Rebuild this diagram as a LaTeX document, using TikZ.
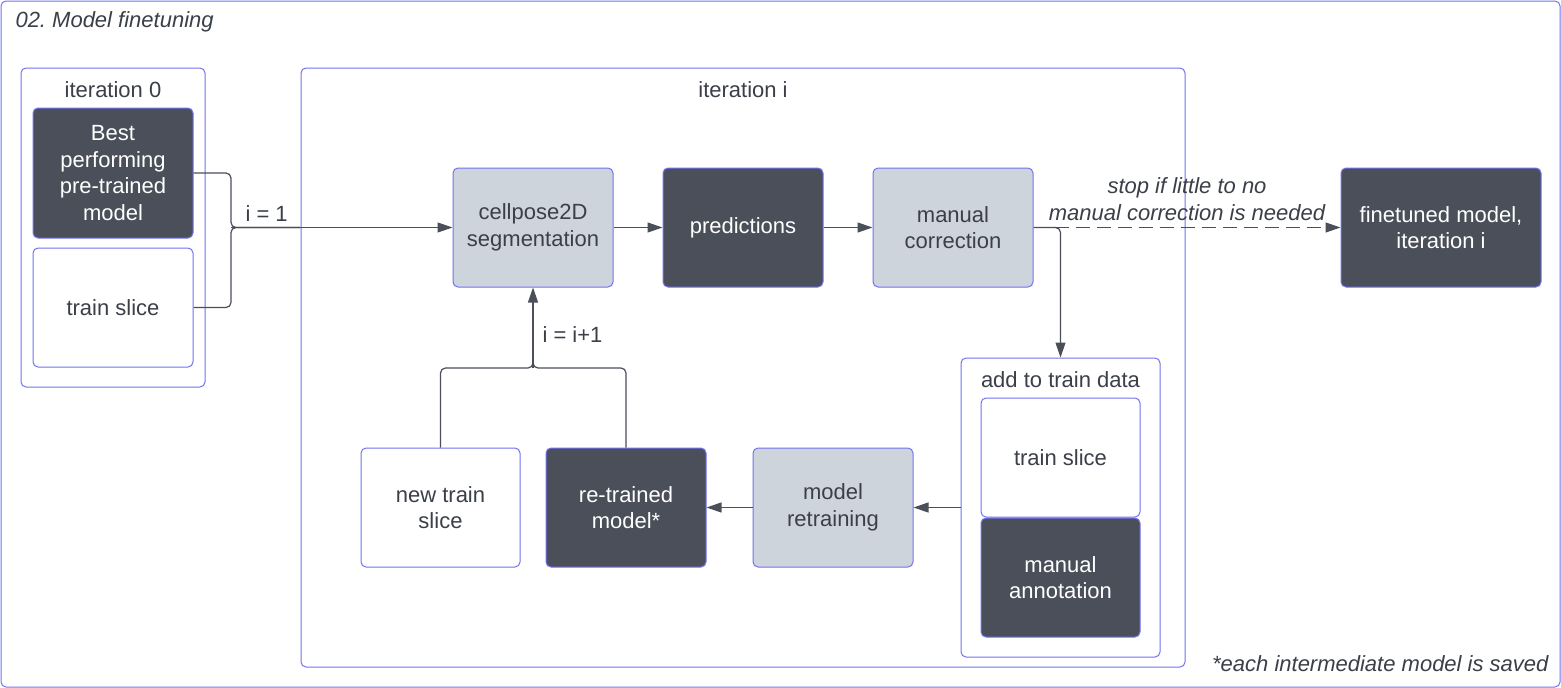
\documentclass[tikz,border=0pt]{standalone}
\usepackage{fontspec}
\setmainfont{Liberation Sans}
\usetikzlibrary{arrows.meta}
\frenchspacing
\definecolor{frame}{HTML}{7272F2}
\definecolor{darkfill}{HTML}{4A4F59}
\definecolor{lightfill}{HTML}{CED4DC}
\definecolor{txt}{HTML}{3A3F48}
\definecolor{wire}{HTML}{4A4F59}
\tikzset{
  every node/.style={font=\fontsize{22}{26.7}\selectfont, text=txt},
  container/.style={draw=frame, line width=1pt, rounded corners=5pt, fill=white},
  darkbox/.style={draw=frame, line width=1pt, rounded corners=5pt, fill=darkfill, text=white, align=center},
  lightbox/.style={draw=frame, line width=1pt, rounded corners=5pt, fill=lightfill, text=txt, align=center},
  whitebox/.style={draw=frame, line width=1pt, rounded corners=5pt, fill=white, text=txt, align=center},
  wirestyle/.style={draw=wire, line width=1.2pt, rounded corners=5pt},
  arr/.style={wirestyle, -{Triangle[length=15pt,width=10pt]}},
  lbl/.style={font=\fontsize{22}{26.7}\selectfont, text=txt, align=center},
}
\begin{document}
\begin{tikzpicture}[x=1pt,y=-1pt]
\useasboundingbox (0,0) rectangle (1561,688);
% outer frame
\draw[container] (1,1) rectangle (1560,687);
\node[anchor=west, lbl, font=\fontsize{22}{26.7}\selectfont\itshape] (title) at (12,22) {02. Model finetuning};
\node[anchor=east, lbl, font=\fontsize{22}{26.7}\selectfont\itshape] (note) at (1552,664) {*each intermediate model is saved};

% iteration 0
\draw[container] (21,68) rectangle (205,387);
\node (it0) at (113,90) {iteration 0};
\node[darkbox, minimum width=160pt, minimum height=130pt] (best) at (113,173) {Best\\performing\\pre-trained\\model};
\node[whitebox, minimum width=160pt, minimum height=119pt] (ts0) at (113,307.5) {train slice};

% iteration i
\draw[container] (301,68) rectangle (1185,667);
\node (iti) at (743,90) {iteration i};
\node[lightbox, minimum width=160pt, minimum height=119pt] (cell) at (533,227.5) {cellpose2D\\segmentation};
\node[darkbox, minimum width=160pt, minimum height=119pt] (pred) at (743,227.5) {predictions};
\node[lightbox, minimum width=160pt, minimum height=119pt] (corr) at (953,227.5) {manual\\correction};
\node[darkbox, minimum width=200pt, minimum height=119pt] (fin) at (1441,227.5) {finetuned model,\\iteration i};

% add to train data
\node[container, minimum width=199pt, minimum height=299pt] (add) at (1060.5,507.5) {};
\node (addl) at (1060.5,380) {add to train data};
\node[whitebox, minimum width=159pt, minimum height=119pt] (ts1) at (1060.5,457.5) {train slice};
\node[darkbox, minimum width=159pt, minimum height=119pt] (ann) at (1060.5,577.5) {manual\\annotation};

\node[whitebox, minimum width=159pt, minimum height=119pt] (nts) at (440.5,507.5) {new train\\slice};
\node[darkbox, minimum width=160pt, minimum height=119pt] (ret) at (626,507.5) {re-trained\\model*};
\node[lightbox, minimum width=160pt, minimum height=119pt] (mr) at (833,507.5) {model\\retraining};

% connectors
\coordinate (j1) at (231,227.5);
\draw[wirestyle] (best.east |- 0,173) -- (231,173) -- (j1) -- (300,227.5);
\draw[wirestyle] (ts0.east) -- (231,307.5) -- (j1) -- (300,227.5);
\draw[arr] (j1) -- (cell.west);
\node[anchor=west] (i1) at (242,214) {i = 1};

\draw[arr] (cell) -- (pred);
\draw[arr] (pred) -- (corr);
\draw[arr, dashed, dash pattern=on 14pt off 7pt] (corr.east) -- (fin.west);
\node[lbl, font=\fontsize{22}{26.7}\selectfont\itshape] (stop) at (1187,199) {stop if little to no\\manual correction is needed};
\draw[arr] (corr.east) -- (1060.5,227.5) -- (add.north);
\draw[arr] (add.west) -- (mr.east);
\draw[arr] (mr.west) -- (ret.east);

\coordinate (j2) at (533,368);
\draw[wirestyle] (nts.north) -- (440.5,368) -- (j2) -- (533,330);
\draw[wirestyle] (ret.north) -- (626,368) -- (j2) -- (533,330);
\draw[arr] (j2) -- (cell.south);
\node[anchor=west] (i2) at (539,335) {i = i+1};
\end{tikzpicture}
\end{document}
